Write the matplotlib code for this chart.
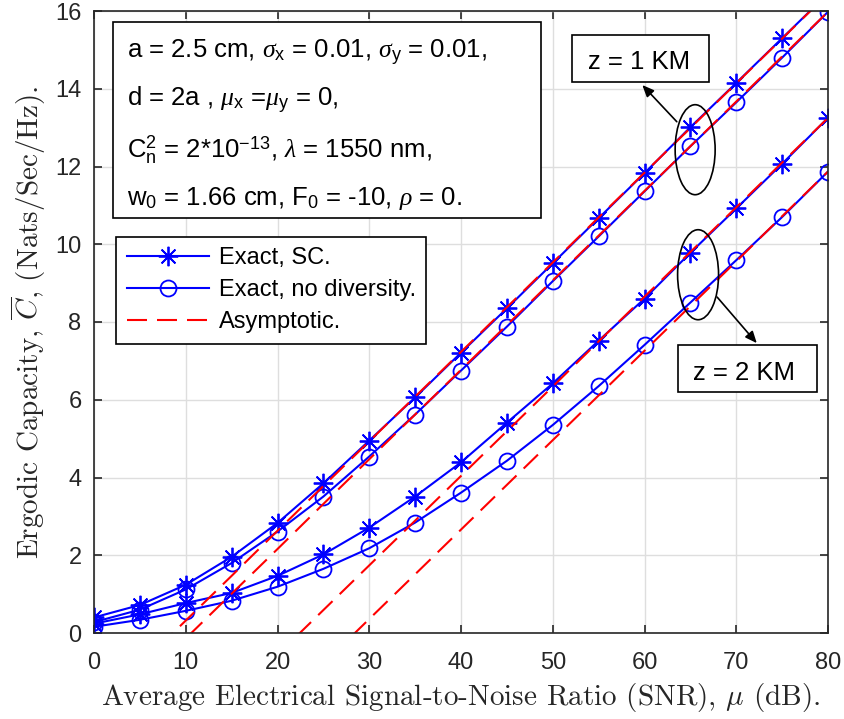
import matplotlib
matplotlib.use("Agg")
import matplotlib.pyplot as plt
from matplotlib.patches import Ellipse, Rectangle

plt.rcParams["font.family"] = ["Liberation Sans", "DejaVu Sans"]
plt.rcParams["mathtext.fontset"] = "custom"
plt.rcParams["mathtext.rm"] = "Liberation Sans"
plt.rcParams["mathtext.sf"] = "Liberation Sans"
plt.rcParams["mathtext.it"] = "Liberation Serif:italic"
plt.rcParams["mathtext.bf"] = "Liberation Sans:bold"

# SNR grid (dB)
snr = [0, 5, 10, 15, 20, 25, 30, 35, 40, 45, 50, 55, 60, 65, 70, 75, 80]

# exact ergodic capacity (nats/s/Hz)
c_sc_z1 = [0.40, 0.72, 1.24, 1.96, 2.83, 3.85, 4.95, 6.06, 7.21, 8.35, 9.51,
           10.67, 11.83, 13.01, 14.15, 15.30, 16.45]
c_nd_z1 = [0.28, 0.60, 1.12, 1.80, 2.61, 3.51, 4.54, 5.62, 6.75, 7.88, 9.05,
           10.20, 11.36, 12.52, 13.65, 14.80, 15.98]
c_sc_z2 = [0.24, 0.48, 0.77, 1.03, 1.47, 2.02, 2.71, 3.51, 4.39, 5.41, 6.42,
           7.52, 8.60, 9.78, 10.92, 12.07, 13.25]
c_nd_z2 = [0.16, 0.34, 0.57, 0.83, 1.19, 1.65, 2.18, 2.84, 3.61, 4.43, 5.35,
           6.35, 7.41, 8.50, 9.59, 10.70, 11.87]

# asymptotic approximations
a_sc_z1 = [-1.98, -0.83, 0.32, 1.47, 2.63, 3.78, 4.93, 6.08, 7.23, 8.38, 9.53,
           10.69, 11.84, 12.99, 14.14, 15.29, 16.44]
a_nd_z1 = [-2.44, -1.29, -0.14, 1.01, 2.16, 3.32, 4.47, 5.62, 6.77, 7.92, 9.07,
           10.22, 11.37, 12.52, 13.67, 14.83, 15.98]
a_sc_z2 = [-5.17, -4.02, -2.87, -1.72, -0.56, 0.59, 1.74, 2.89, 4.04, 5.19, 6.34,
           7.50, 8.65, 9.80, 10.95, 12.10, 13.25]
a_nd_z2 = [-6.55, -5.40, -4.25, -3.10, -1.95, -0.79, 0.36, 1.51, 2.66, 3.81, 4.96,
           6.11, 7.26, 8.41, 9.56, 10.72, 11.87]

params = [
    r"a = 2.5 cm, $\sigma_{\mathrm{x}}$ = 0.01, $\sigma_{\mathrm{y}}$ = 0.01,",
    r"d = 2a , $\mu_{\mathrm{x}}$ =$\mu_{\mathrm{y}}$ = 0,",
    r"C$_{\mathrm{n}}^{\mathrm{2}}$ = 2*10$^{\mathrm{-13}}$, $\lambda$ = 1550 nm,",
    r"w$_{\mathrm{0}}$ = 1.66 cm, F$_{\mathrm{0}}$ = -10, $\rho$ = 0.",
]

dark = "#262626"
asterisk = (8, 2, 0)
dash = (0, (9.6, 4.8))

fig = plt.figure(figsize=(8.44, 7.19), dpi=100)
ax = fig.add_axes([94 / 844, 86 / 719, 734 / 844, 622 / 719])

ax.plot(snr, c_sc_z1, color="blue", lw=1.5, marker=asterisk, ms=14, mew=1.3,
        label="Exact, SC.")
ax.plot(snr, c_nd_z1, color="blue", lw=1.5, marker="o", ms=11.5, mew=1.3,
        mfc="none", label="Exact, no diversity.")
ax.plot(snr, c_sc_z2, color="blue", lw=1.5, marker=asterisk, ms=14, mew=1.3)
ax.plot(snr, c_nd_z2, color="blue", lw=1.5, marker="o", ms=11.5, mew=1.3, mfc="none")
ax.plot(snr, a_sc_z1, color="red", lw=1.5, ls=dash, label="Asymptotic.")
ax.plot(snr, a_nd_z1, color="red", lw=1.5, ls=dash)
ax.plot(snr, a_sc_z2, color="red", lw=1.5, ls=dash)
ax.plot(snr, a_nd_z2, color="red", lw=1.5, ls=dash)

ax.set_xlim(0, 80)
ax.set_ylim(0, 16)
ax.set_xticks(range(0, 81, 10))
ax.set_yticks(range(0, 17, 2))
ax.grid(True, color="#dedede", lw=1.0)
ax.set_axisbelow(True)
for s in ax.spines.values():
    s.set_color(dark)
    s.set_linewidth(1.2)
ax.tick_params(direction="in", top=True, right=True, length=6, width=1.2,
               colors=dark, labelsize=17)
ax.tick_params(axis="x", pad=14)
ax.tick_params(axis="y", pad=9)

ax.set_xlabel(r"Average Electrical Signal-to-Noise Ratio (SNR), $\mu$ (dB).",
              family="cmr10", math_fontfamily="cm", fontsize=21, color=dark,
              labelpad=5)
ax.set_ylabel(r"Ergodic Capacity, $\overline{C}$, (Nats/Sec/Hz).",
              family="cmr10", math_fontfamily="cm", fontsize=21, color=dark,
              labelpad=5)

leg = ax.legend(loc="upper left", bbox_to_anchor=(0.030, 0.637), fontsize=17,
                handlelength=3.5, handletextpad=0.4, labelspacing=0.42,
                borderpad=0.45, borderaxespad=0, fancybox=False,
                framealpha=1, edgecolor="black")
leg.get_frame().set_linewidth(1.2)

# parameter box
ax.add_patch(Rectangle((0.0259, 0.667), 0.583, 0.315, transform=ax.transAxes,
                       fill=True, fc="white", ec="black", lw=1.2, zorder=5))
for txt, yb in zip(params, [0.923, 0.846, 0.765, 0.688]):
    ax.text(0.045, yb, txt, transform=ax.transAxes, fontsize=18.5, va="baseline",
            zorder=6)

# z = 1 KM annotation
ax.add_patch(Ellipse((0.819, 0.777), 0.0545, 0.1447, transform=ax.transAxes,
                     fill=False, ec="black", lw=1.2, zorder=6))
ax.annotate("", xy=(0.747, 0.881), xytext=(0.794, 0.822), xycoords="axes fraction",
            arrowprops=dict(arrowstyle="-|>,head_length=0.7,head_width=0.3",
                            color="black", lw=1.2, shrinkA=0, shrinkB=0))
ax.add_patch(Rectangle((0.651, 0.886), 0.187, 0.075, transform=ax.transAxes,
                       fc="white", ec="black", lw=1.2, zorder=6))
ax.text(0.742, 0.918, "z = 1 KM", transform=ax.transAxes, fontsize=18.5,
        ha="center", va="center", zorder=7)

# z = 2 KM annotation
ax.add_patch(Ellipse((0.823, 0.576), 0.0558, 0.1447, transform=ax.transAxes,
                     fill=False, ec="black", lw=1.2, zorder=6))
ax.annotate("", xy=(0.903, 0.466), xytext=(0.849, 0.540), xycoords="axes fraction",
            arrowprops=dict(arrowstyle="-|>,head_length=0.7,head_width=0.3",
                            color="black", lw=1.2, shrinkA=0, shrinkB=0))
ax.add_patch(Rectangle((0.796, 0.387), 0.189, 0.076, transform=ax.transAxes,
                       fc="white", ec="black", lw=1.2, zorder=6))
ax.text(0.886, 0.418, "z = 2 KM", transform=ax.transAxes, fontsize=18.5,
        ha="center", va="center", zorder=7)

fig.savefig("out.png", dpi=100)
